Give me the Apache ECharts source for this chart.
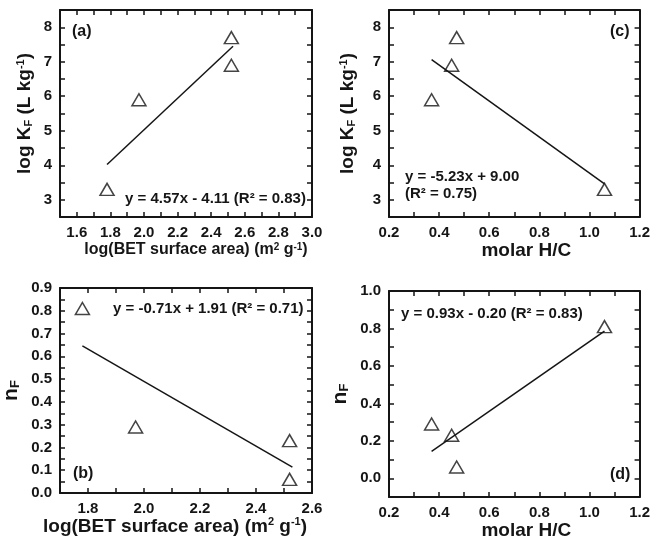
<!DOCTYPE html>
<html>
<head>
<meta charset="utf-8">
<script src="https://cdn.jsdelivr.net/npm/echarts@6/dist/echarts.min.js"></script>
<style>html,body{margin:0;padding:0;background:#fff}#c{width:653px;height:541px}</style>
</head>
<body>
<div id="c"></div>
<script>
// ---- data (per sample) ----
const logBET  = [1.78, 1.97, 2.52, 2.52];
const logKF   = [3.3, 5.9, 7.7, 6.9];
const nF      = [0.81, 0.29, 0.06, 0.23];
const molarHC = [1.06, 0.37, 0.47, 0.45];

// ---- regression line endpoints ----
const fitA_x = [1.78, 2.53], fitA_y = [4.02, 7.45];
const fitB_x = [1.78, 2.53], fitB_y = [0.646, 0.114];
const fitC_x = [0.37, 1.06], fitC_y = [7.06, 3.46];
const fitD_x = [0.37, 1.06], fitD_y = [0.144, 0.786];

// ---- tick labels ----
const ticksBETa = [1.6, 1.8, 2.0, 2.2, 2.4, 2.6, 2.8, 3.0];
const ticksBETb = [1.8, 2.0, 2.2, 2.4, 2.6];
const ticksHC   = [0.2, 0.4, 0.6, 0.8, 1.0, 1.2];
const ticksKF   = [3, 4, 5, 6, 7, 8];
const ticksNFb  = [0.0, 0.1, 0.2, 0.3, 0.4, 0.5, 0.6, 0.7, 0.8, 0.9];
const ticksNFd  = [0.0, 0.2, 0.4, 0.6, 0.8, 1.0];

// ---- annotation texts ----
const eqA = 'y = 4.57x - 4.11 (R² = 0.83)';
const eqB = 'y = -0.71x + 1.91 (R² = 0.71)';
const eqC1 = 'y = -5.23x + 9.00';
const eqC2 = '(R² = 0.75)';
const eqD = 'y = 0.93x - 0.20 (R² = 0.83)';

const FONT = '"Liberation Sans", Arial, Helvetica, sans-serif';
const INK = '#151515';

function fmtFrom(list, digits) {
  return v => list.some(t => Math.abs(t - v) < 1e-6) ? v.toFixed(digits) : '';
}
const richStyles = fs => ({
  sub: {fontSize: Math.round(fs*0.6), fontWeight: 'bold', fontFamily: FONT, color: INK, verticalAlign: 'bottom'},
  sup: {fontSize: Math.round(fs*0.6), fontWeight: 'bold', fontFamily: FONT, color: INK, verticalAlign: 'top'}
});
const lineStyle = {color: INK, width: 2};
const tickStyle = {show: true, inside: true, length: 5, lineStyle: {color: INK, width: 1.5}};

function xPair(gi, min, max, interval, labels, digits, name, nameGap, fs, pad) {
  return [
    {gridIndex: gi, type: 'value', min, max, interval, position: 'bottom',
     axisLine: {show: true, onZero: false, lineStyle}, axisTick: tickStyle, splitLine: {show: false},
     axisLabel: {formatter: fmtFrom(labels, digits), color: INK, fontSize: 15, fontWeight: 'bold', fontFamily: FONT, margin: 8},
     name, nameLocation: 'middle', nameGap,
     nameTextStyle: {color: INK, fontSize: fs, fontWeight: 'bold', fontFamily: FONT, padding: pad, rich: richStyles(fs)}},
    {gridIndex: gi, type: 'value', min, max, interval, position: 'top',
     axisLine: {show: true, onZero: false, lineStyle}, axisTick: tickStyle, splitLine: {show: false},
     axisLabel: {show: false}}
  ];
}
function yPair(gi, min, max, interval, labels, digits, name, nameGap, fs) {
  return [
    {gridIndex: gi, type: 'value', min, max, interval, position: 'left',
     axisLine: {show: true, onZero: false, lineStyle}, axisTick: tickStyle, splitLine: {show: false},
     axisLabel: {formatter: fmtFrom(labels, digits), color: INK, fontSize: 15, fontWeight: 'bold', fontFamily: FONT, margin: 8},
     name, nameLocation: 'middle', nameGap, nameRotate: 90,
     nameTextStyle: {color: INK, fontSize: fs, fontWeight: 'bold', fontFamily: FONT, rich: richStyles(fs)}},
    {gridIndex: gi, type: 'value', min, max, interval, position: 'right',
     axisLine: {show: true, onZero: false, lineStyle}, axisTick: tickStyle, splitLine: {show: false},
     axisLabel: {show: false}}
  ];
}
const zip = (a, b) => a.map((v, i) => [v, b[i]]);

function panelSeries(pi, xs, ys, fx, fy) {
  return [
    {type: 'line', xAxisIndex: 2*pi, yAxisIndex: 2*pi, data: zip(fx, fy), showSymbol: false,
     lineStyle: {color: INK, width: 1.5}, silent: true, z: 2},
    {type: 'scatter', xAxisIndex: 2*pi, yAxisIndex: 2*pi, data: zip(xs, ys),
     symbol: 'triangle', symbolSize: [14, 12],
     itemStyle: {color: 'rgba(255,255,255,0)', borderColor: INK, borderWidth: 1.5}, z: 3}
  ];
}

const BETname = 'log(BET surface area) (m{sup|2} g{sup|-1})';
const KFname = 'log K{sub|F} (L kg{sup|-1})';
const NFname = 'n{sub|F}';
const HCname = 'molar H/C';

const option = {
  animation: false,
  backgroundColor: '#fff',
  grid: [
    {left: 60, top: 10, width: 252, height: 207},
    {left: 60, top: 288, width: 252, height: 205},
    {left: 389, top: 10, width: 252, height: 207},
    {left: 389, top: 291, width: 252, height: 206}
  ],
  xAxis: [
    ...xPair(0, 1.5, 3.0, 0.1, ticksBETa, 1, BETname, 25, 16, [0, 0, 0, 20]),
    ...xPair(1, 1.7, 2.6, 0.1, ticksBETb, 1, BETname, 21, 19, [0, 22, 0, 0]),
    ...xPair(2, 0.2, 1.2, 0.1, ticksHC, 1, HCname, 22, 19, [0, 0, 0, 24]),
    ...xPair(3, 0.2, 1.2, 0.1, ticksHC, 1, HCname, 16, 19, [0, 0, 0, 24])
  ],
  yAxis: [
    ...yPair(0, 2.5, 8.5, 0.5, ticksKF, 0, KFname, 26, 19),
    ...yPair(1, 0, 0.9, 0.05, ticksNFb, 1, NFname, 38, 21),
    ...yPair(2, 2.5, 8.5, 0.5, ticksKF, 0, KFname, 32, 19),
    ...yPair(3, -0.1, 1.0, 0.1, ticksNFd, 1, NFname, 38, 21)
  ],
  series: [
    ...panelSeries(0, logBET, logKF, fitA_x, fitA_y),
    ...panelSeries(1, logBET, nF, fitB_x, fitB_y),
    ...panelSeries(2, molarHC, logKF, fitC_x, fitC_y),
    ...panelSeries(3, molarHC, nF, fitD_x, fitD_y)
  ],
  graphic: [
    {type: 'text', left: 72, top: 24, style: {text: '(a)', font: 'bold 16px ' + FONT, fill: INK}},
    {type: 'text', left: 73, top: 466, style: {text: '(b)', font: 'bold 16px ' + FONT, fill: INK}},
    {type: 'text', left: 610, top: 24, style: {text: '(c)', font: 'bold 16px ' + FONT, fill: INK}},
    {type: 'text', left: 610, top: 467, style: {text: '(d)', font: 'bold 16px ' + FONT, fill: INK}},
    {type: 'text', left: 125, top: 191, style: {text: eqA, font: 'bold 15px ' + FONT, fill: INK}},
    {type: 'text', left: 113, top: 301, style: {text: eqB, font: 'bold 15px ' + FONT, fill: INK}},
    {type: 'text', left: 405, top: 169, style: {text: eqC1, font: 'bold 15px ' + FONT, fill: INK}},
    {type: 'text', left: 405, top: 186, style: {text: eqC2, font: 'bold 15px ' + FONT, fill: INK}},
    {type: 'text', left: 401, top: 306, style: {text: eqD, font: 'bold 15px ' + FONT, fill: INK}}
  ]
};
echarts.init(document.getElementById('c'), null, {renderer: 'canvas'}).setOption(option);
</script>
</body>
</html>
